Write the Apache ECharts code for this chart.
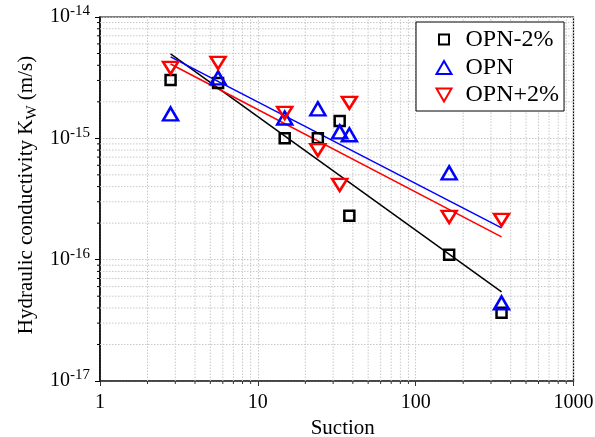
<!DOCTYPE html>
<html>
<head>
<meta charset="utf-8">
<script src="https://cdn.jsdelivr.net/npm/echarts@6/dist/echarts.min.js"></script>
<style>
  html, body { margin: 0; padding: 0; background: #fff; }
  #chart { width: 595px; height: 437px; }
</style>
</head>
<body>
<div id="chart"></div>
<script>
// Suction values shared by the three mixes
const suction = [2.8, 5.6, 14.8, 24, 33, 38, 163, 350];

// Hydraulic conductivity Kw (m/s) for each mix
const kOpnMinus = [3.03e-15, 2.86e-15, 1.0e-15, 1.0e-15, 1.39e-15, 2.3e-16, 1.1e-16, 3.65e-17];
const kOpn      = [1.59e-15, 3.15e-15, 1.47e-15, 1.75e-15, 1.13e-15, 1.07e-15, 5.2e-16, 4.4e-17];
const kOpnPlus  = [3.8e-15, 4.18e-15, 1.62e-15, 8.0e-16, 4.13e-16, 1.96e-15, 2.25e-16, 2.13e-16];

// Power-law trend lines (end points)
const fitX        = [2.8, 350];
const fitOpnMinus = [4.96e-15, 5.43e-17];
const fitOpn      = [4.69e-15, 1.83e-16];
const fitOpnPlus  = [4.1e-15, 1.54e-16];

const seriesNames = ['OPN-2%', 'OPN', 'OPN+2%'];

// Axis ranges and tick labels
const xMin = 1, xMax = 1000;
const yMin = 1e-17, yMax = 1e-14;
const xTickLabels = ['1', '10', '100', '1000'];
const yTickExps   = ['-17', '-16', '-15', '-14'];

// Minor (2..9 per decade) tick positions
const mantissas = [2, 3, 4, 5, 6, 7, 8, 9];
const xDecades = [1, 10, 100];
const yDecades = [1e-17, 1e-16, 1e-15];
const minorX = [];
xDecades.forEach(d => mantissas.forEach(m => minorX.push(+(m * d).toPrecision(3))));
const minorY = [];
yDecades.forEach(d => mantissas.forEach(m => minorY.push(+(m * d).toPrecision(3))));

const FONT = 'Liberation Serif';
const GRID_COLOR = '#c8c8c8';
const gridDot = { color: GRID_COLOR, width: 1, type: [1.5, 1.5] };

const pairs = ys => suction.map((x, i) => [x, ys[i]]);
const fitPairs = ys => fitX.map((x, i) => [x, ys[i]]);

// marker shapes (legend icons carry a little empty margin in a 17x15 box)
const downTri = 'path://M0,0L20,0L10,16Z';
const iconSquare = 'path://M0,0M17,15M3.5,2L13.5,2L13.5,12L3.5,12Z';
const iconUp = 'path://M0,0M17,15M8.5,1L16,14L1,14Z';
const iconDown = 'path://M0,0M17,15M1,1L16,1L8.5,14Z';

// minor grid lines + outward minor ticks, placed through the axis scales
function minorXItem(params, api) {
  const v = api.value(0);
  const bottom = api.coord([v, yMin]);
  const top = api.coord([v, yMax]);
  return {
    type: 'group',
    children: [
      { type: 'line', shape: { x1: bottom[0], y1: bottom[1], x2: top[0], y2: top[1] },
        style: { stroke: GRID_COLOR, lineWidth: 1, lineDash: [1.5, 1.5] }, silent: true },
      { type: 'line', shape: { x1: bottom[0], y1: bottom[1], x2: bottom[0], y2: bottom[1] + 3 },
        style: { stroke: '#333', lineWidth: 1 }, silent: true }
    ]
  };
}
function minorYItem(params, api) {
  const v = api.value(1);
  const left = api.coord([xMin, v]);
  const right = api.coord([xMax, v]);
  return {
    type: 'group',
    children: [
      { type: 'line', shape: { x1: left[0], y1: left[1], x2: right[0], y2: right[1] },
        style: { stroke: GRID_COLOR, lineWidth: 1, lineDash: [1.5, 1.5] }, silent: true },
      { type: 'line', shape: { x1: left[0] - 3, y1: left[1], x2: left[0], y2: left[1] },
        style: { stroke: '#000', lineWidth: 1 }, silent: true }
    ]
  };
}

const chart = echarts.init(document.getElementById('chart'), null, { renderer: 'canvas' });

chart.setOption({
  animation: false,
  backgroundColor: '#fff',
  grid: {
    left: 100, top: 17, right: 21.5, bottom: 56,
    outerBoundsMode: 'none', containLabel: false,
    show: true, borderColor: '#000', borderWidth: 1.2, backgroundColor: 'transparent'
  },
  legend: {
    orient: 'vertical',
    left: 416, top: 22,
    padding: [6, 5, 4, 18.5],
    itemGap: 3.5,
    itemWidth: 17, itemHeight: 15,
    backgroundColor: '#fff',
    borderColor: '#000', borderWidth: 1,
    borderRadius: 0,
    data: [
      { name: seriesNames[0], icon: iconSquare },
      { name: seriesNames[1], icon: iconUp },
      { name: seriesNames[2], icon: iconDown }
    ],
    textStyle: { fontFamily: FONT, fontSize: 24, color: '#000', padding: [0, 0, 0, 8] }
  },
  xAxis: [{
    type: 'log', logBase: 10, min: xMin, max: xMax,
    name: 'Suction', nameLocation: 'middle', nameGap: 34,
    nameTextStyle: { fontFamily: FONT, fontSize: 21, color: '#000', padding: [0, 0, 0, 12] },
    axisLine: { lineStyle: { color: '#333', width: 1.5 } },
    axisTick: { show: true, inside: false, length: 5, lineStyle: { color: '#333', width: 1 } },
    axisLabel: {
      fontFamily: FONT, fontSize: 20, color: '#000', margin: 12,
      formatter: (v, i) => xTickLabels[i]
    },
    splitLine: { show: true, lineStyle: gridDot }
  }],
  yAxis: [{
    type: 'log', logBase: 10, min: yMin, max: yMax,
    name: '{a|Hydraulic conductivity K}{s|W}{a| (m/s)}',
    nameLocation: 'middle', nameGap: 60, nameRotate: 90,
    nameTextStyle: {
      fontFamily: FONT, fontSize: 21, color: '#000',
      padding: [0, 0, 0, 8],
      rich: {
        a: { fontFamily: FONT, fontSize: 21, color: '#000', lineHeight: 26, verticalAlign: 'middle' },
        s: { fontFamily: FONT, fontSize: 15, color: '#000', lineHeight: 26, verticalAlign: 'bottom' }
      }
    },
    axisLine: { lineStyle: { color: '#000', width: 1.5 } },
    axisTick: { show: true, inside: false, length: 5, lineStyle: { color: '#000', width: 1 } },
    axisLabel: {
      margin: 10,
      formatter: (v, i) => '{b|10}{s|' + yTickExps[i] + '}',
      rich: {
        b: { fontFamily: FONT, fontSize: 20, color: '#000', lineHeight: 26, verticalAlign: 'middle' },
        s: { fontFamily: FONT, fontSize: 15, color: '#000', lineHeight: 26, verticalAlign: 'top' }
      }
    },
    splitLine: { show: true, lineStyle: gridDot }
  }],
  series: [
    {
      type: 'custom', data: minorX.map(v => [v, yMin]), renderItem: minorXItem,
      silent: true, clip: false, z: 1
    },
    {
      type: 'custom', data: minorY.map(v => [xMin, v]), renderItem: minorYItem,
      silent: true, clip: false, z: 1
    },
    {
      type: 'line', data: fitPairs(fitOpnMinus), showSymbol: false, symbol: 'none',
      lineStyle: { color: '#000', width: 1.5 }, silent: true, z: 3
    },
    {
      type: 'line', data: fitPairs(fitOpn), showSymbol: false, symbol: 'none',
      lineStyle: { color: '#0000ff', width: 1.5 }, silent: true, z: 3
    },
    {
      type: 'line', data: fitPairs(fitOpnPlus), showSymbol: false, symbol: 'none',
      lineStyle: { color: '#ff0000', width: 1.5 }, silent: true, z: 3
    },
    {
      name: seriesNames[0], type: 'scatter', data: pairs(kOpnMinus),
      symbol: 'rect', symbolSize: 10,
      itemStyle: { color: 'transparent', borderColor: '#000', borderWidth: 2.5, opacity: 1 },
      z: 4
    },
    {
      name: seriesNames[1], type: 'scatter', data: pairs(kOpn),
      symbol: 'triangle', symbolSize: [15, 13],
      itemStyle: { color: 'transparent', borderColor: '#0000ff', borderWidth: 2.5, opacity: 1 },
      z: 4
    },
    {
      name: seriesNames[2], type: 'scatter', data: pairs(kOpnPlus),
      symbol: downTri, symbolSize: [15, 12],
      itemStyle: { color: 'transparent', borderColor: '#ff0000', borderWidth: 2.5, opacity: 1 },
      z: 4
    }
  ]
});
</script>
</body>
</html>
